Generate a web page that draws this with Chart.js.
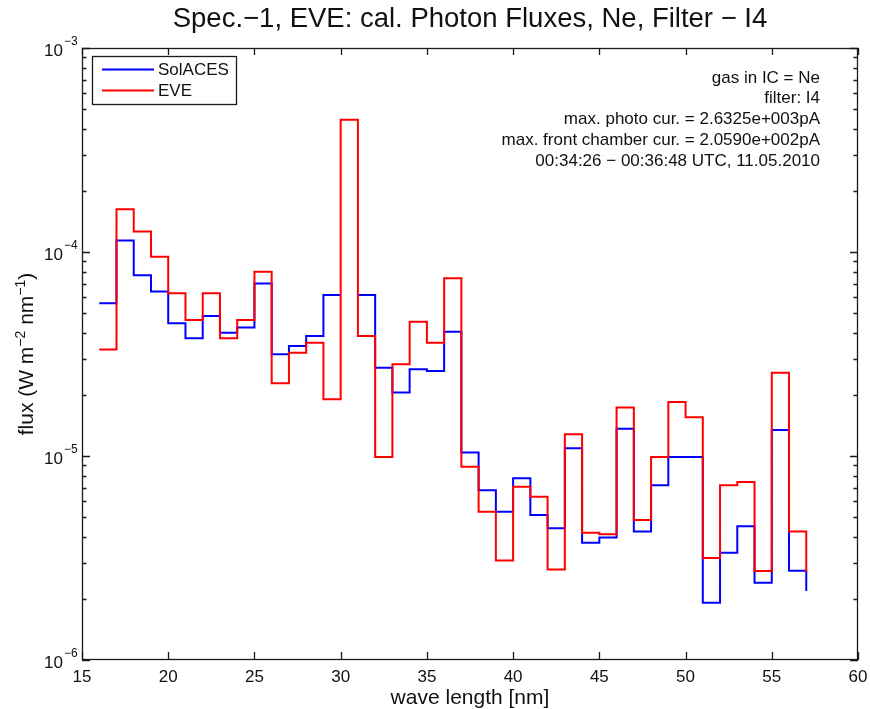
<!DOCTYPE html>
<html>
<head>
<meta charset="utf-8">
<script src="https://cdn.jsdelivr.net/npm/chart.js@4.4.1/dist/chart.umd.min.js"></script>
<style>
html,body{margin:0;padding:0;background:#fff;}
#wrap{width:870px;height:709px;}
</style>
</head>
<body>
<div id="wrap"><canvas id="c" width="870" height="709"></canvas></div>
<script>
// ---- data ----
const wavelength = [16,17,18,19,20,21,22,23,24,25,26,27,28,29,30,31,32,33,34,35,36,37,38,39,40,41,42,43,44,45,46,47,48,49,50,51,52,53,54,55,56,57];
const solaces = [5.6e-5,1.14e-4,7.7e-5,6.4e-5,4.47e-5,3.78e-5,4.86e-5,4.02e-5,4.26e-5,7.0e-5,
                 3.15e-5,3.46e-5,3.87e-5,6.15e-5,6.15e-5,6.15e-5,2.71e-5,2.05e-5,2.66e-5,2.61e-5,
                 4.07e-5,1.04e-5,6.8e-6,5.33e-6,7.78e-6,5.14e-6,4.42e-6,1.09e-5,3.76e-6,3.98e-6,
                 1.36e-5,4.27e-6,7.18e-6,9.9e-6,9.9e-6,1.91e-6,3.36e-6,4.52e-6,2.39e-6,1.34e-5,
                 2.74e-6,2.18e-6];
// SolACES bin starting at 30 nm is hidden behind the EVE spike in the reference
const solacesHiddenBins = [30];
const eve = [3.33e-5,1.62e-4,1.26e-4,9.48e-5,6.27e-5,4.64e-5,6.27e-5,3.78e-5,4.64e-5,8.01e-5,
             2.27e-5,3.21e-5,3.59e-5,1.9e-5,4.45e-4,3.87e-5,9.9e-6,2.82e-5,4.55e-5,3.59e-5,
             7.43e-5,8.86e-6,5.33e-6,3.07e-6,7.07e-6,6.31e-6,2.78e-6,1.28e-5,4.21e-6,4.13e-6,
             1.73e-5,4.86e-6,9.9e-6,1.84e-5,1.55e-5,3.16e-6,7.18e-6,7.45e-6,2.73e-6,2.56e-5,
             4.27e-6,2.7e-6];
const seriesNames = ['SolACES', 'EVE'];
const seriesColors = ['#0000ff', '#ff0000'];
const xTickValues = [15,20,25,30,35,40,45,50,55,60];
const yDecadeExponents = [-6,-5,-4,-3];
const infoLines = ['gas in IC = Ne','filter: I4','max. photo cur. = 2.6325e+003pA','max. front chamber cur. = 2.0590e+002pA','00:34:26 \u2212 00:36:48 UTC, 11.05.2010'];
const titleText = 'Spec.\u22121, EVE: cal. Photon Fluxes, Ne, Filter \u2212 I4';
const xTitle = 'wave length [nm]';

const FONT = '"Liberation Sans", Arial, Helvetica, sans-serif';
const INK = '#111';

function toPoints(xs, ys){ return xs.map((x,i)=>({x:x, y:ys[i]})); }

const decor = {
  id:'decor',
  afterDraw(chart){
    const {ctx, chartArea:a, scales:{x,y}} = chart;
    ctx.save();
    // frame
    ctx.strokeStyle = '#1a1a1a';
    ctx.lineWidth = 1.3;
    ctx.strokeRect(a.left+0.5, a.top+0.5, a.right-a.left-1, a.bottom-a.top-1);
    ctx.beginPath();
    x.ticks.forEach(t=>{
      const px = Math.round(x.getPixelForValue(t.value))+0.5;
      ctx.moveTo(px, a.bottom); ctx.lineTo(px, a.bottom-8);
      ctx.moveTo(px, a.top); ctx.lineTo(px, a.top+7);
    });
    y.ticks.forEach(t=>{
      const py = Math.round(y.getPixelForValue(t.value))+0.5;
      const lg = Math.log10(t.value);
      const major = Math.abs(lg-Math.round(lg))<1e-9;
      const L = major ? 8 : 4.5;
      ctx.moveTo(a.left, py); ctx.lineTo(a.left+L, py);
      ctx.moveTo(a.right, py); ctx.lineTo(a.right-L, py);
    });
    ctx.stroke();

    // y decade labels 10^e
    ctx.fillStyle = INK;
    yDecadeExponents.forEach(e=>{
      const py = y.getPixelForValue(Math.pow(10,e));
      ctx.font = '17px '+FONT;
      ctx.textAlign = 'right'; ctx.textBaseline = 'alphabetic';
      ctx.fillText('10', 63, py+7.5);
      ctx.font = '12px '+FONT;
      ctx.textAlign = 'left';
      ctx.fillText('\u2212'+Math.abs(e), 64, py-3);
    });

    // y axis title with superscripts
    const parts = [['flux (W m',21,0],['\u22122',14,-8],[' nm',21,0],['\u22121',14,-8],[')',21,0]];
    let total = 0;
    parts.forEach(p=>{ ctx.font = p[1]+'px '+FONT; p.w = ctx.measureText(p[0]).width; total += p.w; });
    ctx.save();
    ctx.translate(33, (a.top+a.bottom)/2);
    ctx.rotate(-Math.PI/2);
    ctx.textAlign='left'; ctx.textBaseline='alphabetic';
    let cx = -total/2;
    parts.forEach(p=>{ ctx.font = p[1]+'px '+FONT; ctx.fillText(p[0], cx, p[2]); cx += p.w; });
    ctx.restore();

    // legend box
    const lx = a.left+10, ly = a.top+8, lw = 144, lh = 48;
    ctx.fillStyle = '#fff';
    ctx.fillRect(lx, ly, lw, lh);
    ctx.strokeStyle = '#1a1a1a'; ctx.lineWidth = 1.3;
    ctx.strokeRect(lx+0.5, ly+0.5, lw, lh);
    chart.data.datasets.forEach((ds,i)=>{
      const yy = ly + 13.5 + i*21;
      ctx.strokeStyle = ds.borderColor; ctx.lineWidth = 2;
      ctx.beginPath(); ctx.moveTo(lx+10, yy); ctx.lineTo(lx+62, yy); ctx.stroke();
      ctx.fillStyle = INK; ctx.font = '17px '+FONT;
      ctx.textAlign='left'; ctx.textBaseline='middle';
      ctx.fillText(ds.label, lx+66, yy+1);
    });

    // info text
    ctx.fillStyle = INK; ctx.font = '17px '+FONT;
    ctx.textAlign = 'right'; ctx.textBaseline = 'middle';
    infoLines.forEach((s,i)=>{ ctx.fillText(s, 820, 78 + i*20.8); });
    ctx.restore();
  }
};

new Chart(document.getElementById('c'), {
  type:'line',
  data:{
    datasets:[
      {label:seriesNames[0], data:toPoints(wavelength, solaces), borderColor:seriesColors[0], borderWidth:2, stepped:true, pointRadius:0, fill:false, order:2,
       segment:{borderColor:(c)=> solacesHiddenBins.includes(c.p0.parsed.x) ? 'rgba(0,0,0,0)' : undefined}},
      {label:seriesNames[1], data:toPoints(wavelength, eve), borderColor:seriesColors[1], borderWidth:2, stepped:true, pointRadius:0, fill:false, order:1}
    ]
  },
  options:{
    responsive:false,
    animation:false,
    devicePixelRatio:1,
    layout:{padding:{left:0,right:12,top:0,bottom:0}},
    plugins:{
      legend:{display:false},
      tooltip:{enabled:false},
      title:{display:true, text:titleText, fullSize:false, color:INK,
             font:{family:FONT, size:27.5, weight:'normal', lineHeight:1.2},
             padding:{top:3, bottom:12}}
    },
    scales:{
      x:{type:'linear', min:15, max:60, position:'bottom',
         afterBuildTicks:(s)=>{ s.ticks = xTickValues.map(v=>({value:v})); },
         afterFit:(s)=>{ s.height = 49; },
         grid:{display:false}, border:{display:false},
         ticks:{color:INK, font:{family:FONT, size:17}, padding:-1, maxRotation:0, autoSkip:false},
         title:{display:true, text:xTitle, color:INK, font:{family:FONT, size:21, lineHeight:1}, padding:{top:0,bottom:0}}
      },
      y:{type:'logarithmic', min:1e-6, max:1e-3,
         afterBuildTicks:(s)=>{
           const t=[];
           yDecadeExponents.forEach(e=>{
             if (e===yDecadeExponents[yDecadeExponents.length-1]) { t.push({value:Math.pow(10,e)}); return; }
             for(let k=1;k<=9;k++) t.push({value:k*Math.pow(10,e)});
           });
           s.ticks = t;
         },
         afterFit:(s)=>{ s.width = 82; },
         grid:{display:false}, border:{display:false},
         ticks:{display:false}
      }
    }
  },
  plugins:[decor]
});
</script>
</body>
</html>
